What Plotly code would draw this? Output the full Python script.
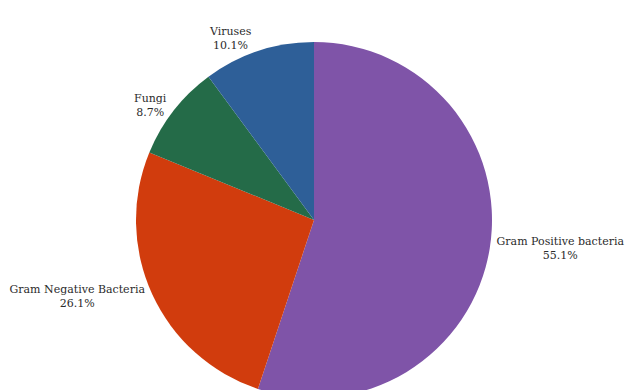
import plotly.graph_objects as go

labels = ["Gram Positive bacteria", "Gram Negative Bacteria", "Fungi", "Viruses"]
values = [55.1, 26.1, 8.7, 10.1]
colors = ["#7f54a8", "#d13c0d", "#246b48", "#2e5f98"]

serif = "DejaVu Serif"

fig = go.Figure(go.Pie(
    labels=labels,
    values=values,
    sort=False,
    direction="clockwise",
    rotation=0,
    automargin=False,
    marker=dict(colors=colors, line=dict(width=0)),
    textposition="outside",
    texttemplate="%{label}<br>%{percent:.1%}",
    textfont=dict(family=serif, size=11, color="#2b2b2b"),
    showlegend=False,
    hoverinfo="label+percent",
))

fig.update_layout(
    width=634,
    height=398,
    margin=dict(l=0, r=6, t=42, b=0, autoexpand=False),
    font=dict(family=serif, size=11, color="#2b2b2b"),
    paper_bgcolor="white",
    plot_bgcolor="white",
)

fig.write_html("out.html")
